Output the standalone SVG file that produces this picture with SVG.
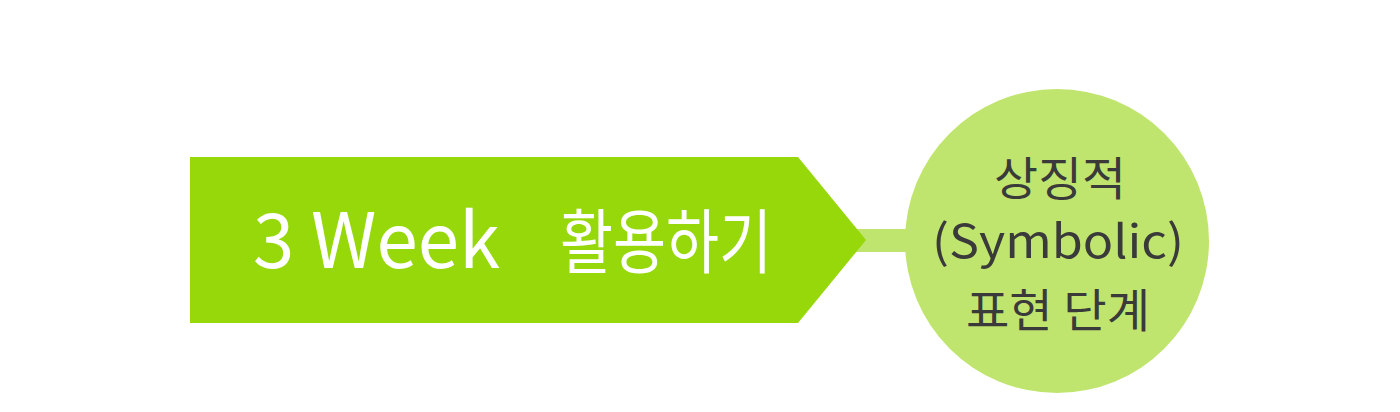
<svg xmlns="http://www.w3.org/2000/svg" width="1400" height="412" viewBox="0 0 1400 412">
<style>
.t1{font-family:"Noto Sans CJK KR","Noto Sans",sans-serif;fill:#ffffff}
.t2{font-family:"Noto Sans CJK KR","Noto Sans",sans-serif;font-size:46px;fill:#3a3a3a;text-anchor:middle}
</style>
<rect width="1400" height="412" fill="#ffffff"/>
<g id="connectors">
<rect x="850" y="229" width="60" height="23" fill="#c0e56e"/>
</g>
<g id="week">
<polygon points="190,157 798,157 866,240 798,323 190,323" fill="#97d80b"/>
<text class="t1" x="253" y="268" font-size="76" textLength="247" lengthAdjust="spacingAndGlyphs">3 Week</text>
<text class="t1" x="560" y="268" font-size="70" textLength="212" lengthAdjust="spacingAndGlyphs">활용하기</text>
</g>
<g id="symbolic">
<circle cx="1057" cy="241" r="152" fill="#c0e56e"/>
<text class="t2" x="1060" y="195" textLength="132" lengthAdjust="spacingAndGlyphs">상징적</text>
<text class="t2" x="1058" y="258" textLength="252" lengthAdjust="spacingAndGlyphs">(Symbolic)</text>
<text class="t2" x="1058" y="327" textLength="184" lengthAdjust="spacingAndGlyphs">표현 단계</text>
</g>
</svg>
